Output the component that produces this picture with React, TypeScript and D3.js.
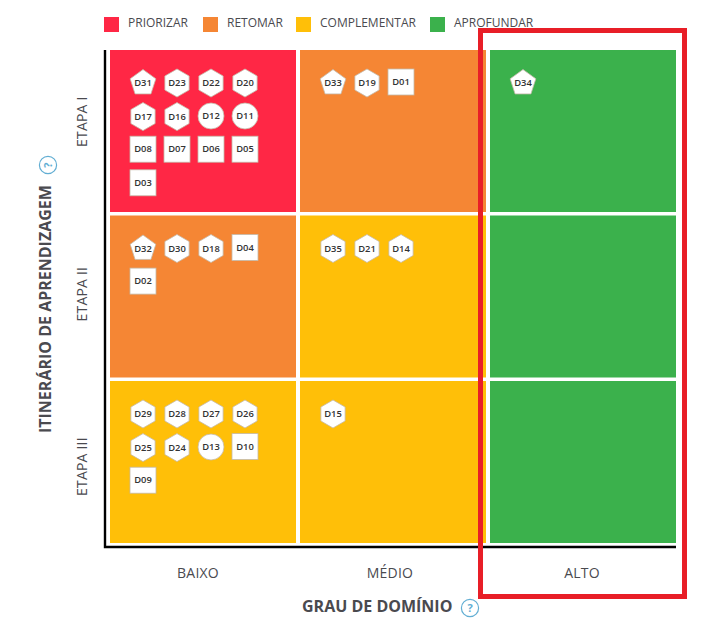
import { useEffect, useRef } from 'react'
import * as d3 from 'd3'

const LEGEND = ['PRIORIZAR', 'RETOMAR', 'COMPLEMENTAR', 'APROFUNDAR']
const LEGEND_COLORS = ['#ff2745', '#f58634', '#ffbf08', '#3bb14c']
const LEVELS = ['BAIXO', 'MÉDIO', 'ALTO']
const STAGES = ['ETAPA I', 'ETAPA II', 'ETAPA III']

// action index (LEGEND) for each stage x level
const CELL_ACTION = [
  [0, 1, 3],
  [1, 2, 3],
  [2, 2, 3],
]

const CELL_ITEMS = [
  [
    ['D31', 'D23', 'D22', 'D20', 'D17', 'D16', 'D12', 'D11', 'D08', 'D07', 'D06', 'D05', 'D03'],
    ['D33', 'D19', 'D01'],
    ['D34'],
  ],
  [['D32', 'D30', 'D18', 'D04', 'D02'], ['D35', 'D21', 'D14'], []],
  [['D29', 'D28', 'D27', 'D26', 'D25', 'D24', 'D13', 'D10', 'D09'], ['D15'], []],
]

const PENTAGONS = ['D31', 'D33', 'D32', 'D34']
const CIRCLES = ['D12', 'D11', 'D13']
const SQUARES = ['D01', 'D02', 'D03', 'D04', 'D05', 'D06', 'D07', 'D08', 'D09', 'D10']

const FONT = '"Open Sans", sans-serif'
const TEXT = '#4a4a4f'

export default function App() {
  const svgRef = useRef<SVGSVGElement>(null)

  useEffect(() => {
    const svg = d3.select(svgRef.current)
    svg.selectAll('*').remove()

    const x = d3.scaleBand().domain(d3.range(3).map(String)).range([110, 676]).paddingInner(4 / 190)
    const y = d3.scaleBand().domain(d3.range(3).map(String)).range([50, 543]).paddingInner(3.5 / 165.5)

    const legendX = d3.scaleOrdinal<string, number>().domain(LEGEND).range([104, 203, 296, 430])

    // Legend
    LEGEND.forEach((name, i) => {
      svg.append('rect').attr('x', legendX(name)).attr('y', 17).attr('width', 15).attr('height', 15).attr('fill', LEGEND_COLORS[i])
      svg.append('text').attr('x', legendX(name) + 24).attr('y', 27)
        .attr('font-family', FONT).attr('font-size', 12).attr('fill', TEXT).text(name)
    })

    // Cells
    const hexagon = d3.lineRadial<number>().angle(d => d).radius(14).curve(d3.curveLinearClosed)(d3.range(6).map(i => (i * Math.PI) / 3))
    const pentagon = d3.lineRadial<number>().angle(d => d).radius(13.5).curve(d3.curveLinearClosed)(d3.range(5).map(i => (i * 2 * Math.PI) / 5))

    STAGES.forEach((_, r) => {
      LEVELS.forEach((_, c) => {
        const cx = x(String(c))
        const cy = y(String(r))
        svg.append('rect').attr('x', cx).attr('y', cy).attr('width', x.bandwidth()).attr('height', y.bandwidth())
          .attr('fill', LEGEND_COLORS[CELL_ACTION[r][c]])

        CELL_ITEMS[r][c].forEach((code, i) => {
          const isSquare = SQUARES.includes(code)
          const isCircle = CIRCLES.includes(code)
          const px = cx + 33 + (i % 4) * 34
          const py = cy + 33 + Math.floor(i / 4) * 33.6 - (isSquare ? 1 : isCircle ? 0.6 : 0)
          const g = svg.append('g').attr('transform', `translate(${px},${py})`)
          const style = (s: any) => s.attr('fill', '#fff').attr('stroke', '#c4b9a8').attr('stroke-width', 0.8)

          if (isSquare) g.append('rect').attr('x', -13).attr('y', -13).attr('width', 26).attr('height', 26).call(style)
          else if (isCircle) g.append('circle').attr('r', 13).call(style)
          else g.append('path').attr('d', PENTAGONS.includes(code) ? pentagon : hexagon).call(style)

          g.append('text').attr('text-anchor', 'middle').attr('y', 3.2)
            .attr('font-family', FONT).attr('font-size', 9.4).attr('font-weight', 600).attr('fill', '#333').text(code)
        })
      })
    })

    // Axis lines
    svg.append('path').attr('d', 'M105,50V547H676').attr('fill', 'none').attr('stroke', '#000').attr('stroke-width', 2.4)

    // Category labels
    const levelX = d3.scalePoint().domain(LEVELS).range([198, 582])
    LEVELS.forEach(l => {
      svg.append('text').attr('x', levelX(l)).attr('y', 578).attr('text-anchor', 'middle')
        .attr('font-family', FONT).attr('font-size', 14).attr('letter-spacing', 0.2).attr('fill', TEXT).text(l)
    })
    const stageY = d3.scalePoint().domain(STAGES).range([147, 496])
    STAGES.forEach(s => {
      svg.append('text').attr('transform', `translate(87,${stageY(s)}) rotate(-90)`)
        .attr('font-family', FONT).attr('font-size', 14).attr('letter-spacing', 0.2).attr('fill', TEXT).text(s)
    })

    // Axis titles
    svg.append('text').attr('x', 302).attr('y', 612)
      .attr('font-family', FONT).attr('font-size', 16).attr('font-weight', 700).attr('fill', TEXT).text('GRAU DE DOMÍNIO')
    svg.append('text').attr('transform', 'translate(51,433) rotate(-90)')
      .attr('font-family', FONT).attr('font-size', 16).attr('font-weight', 700).attr('fill', TEXT).text('ITINERÁRIO DE APRENDIZAGEM')

    // Help icons
    const help = (px: number, py: number, rot: number) => {
      const g = svg.append('g').attr('transform', `translate(${px},${py}) rotate(${rot})`)
      g.append('circle').attr('r', 8.6).attr('fill', '#fff').attr('stroke', '#62aed3').attr('stroke-width', 1.2)
      g.append('text').attr('y', 4).attr('text-anchor', 'middle').attr('font-family', FONT)
        .attr('font-size', 11).attr('font-weight', 700).attr('fill', '#62aed3').text('?')
    }
    help(470, 608, 0)
    help(48, 165, -90)

    // Highlight box over the ALTO column
    svg.append('rect').attr('x', 480.5).attr('y', 30.5).attr('width', 204).attr('height', 566)
      .attr('fill', 'none').attr('stroke', '#e81e27').attr('stroke-width', 5)
  }, [])

  return <svg ref={svgRef} width={705} height={635} style={{ position: 'absolute', left: 0, top: 0, background: '#fff' }} />
}
